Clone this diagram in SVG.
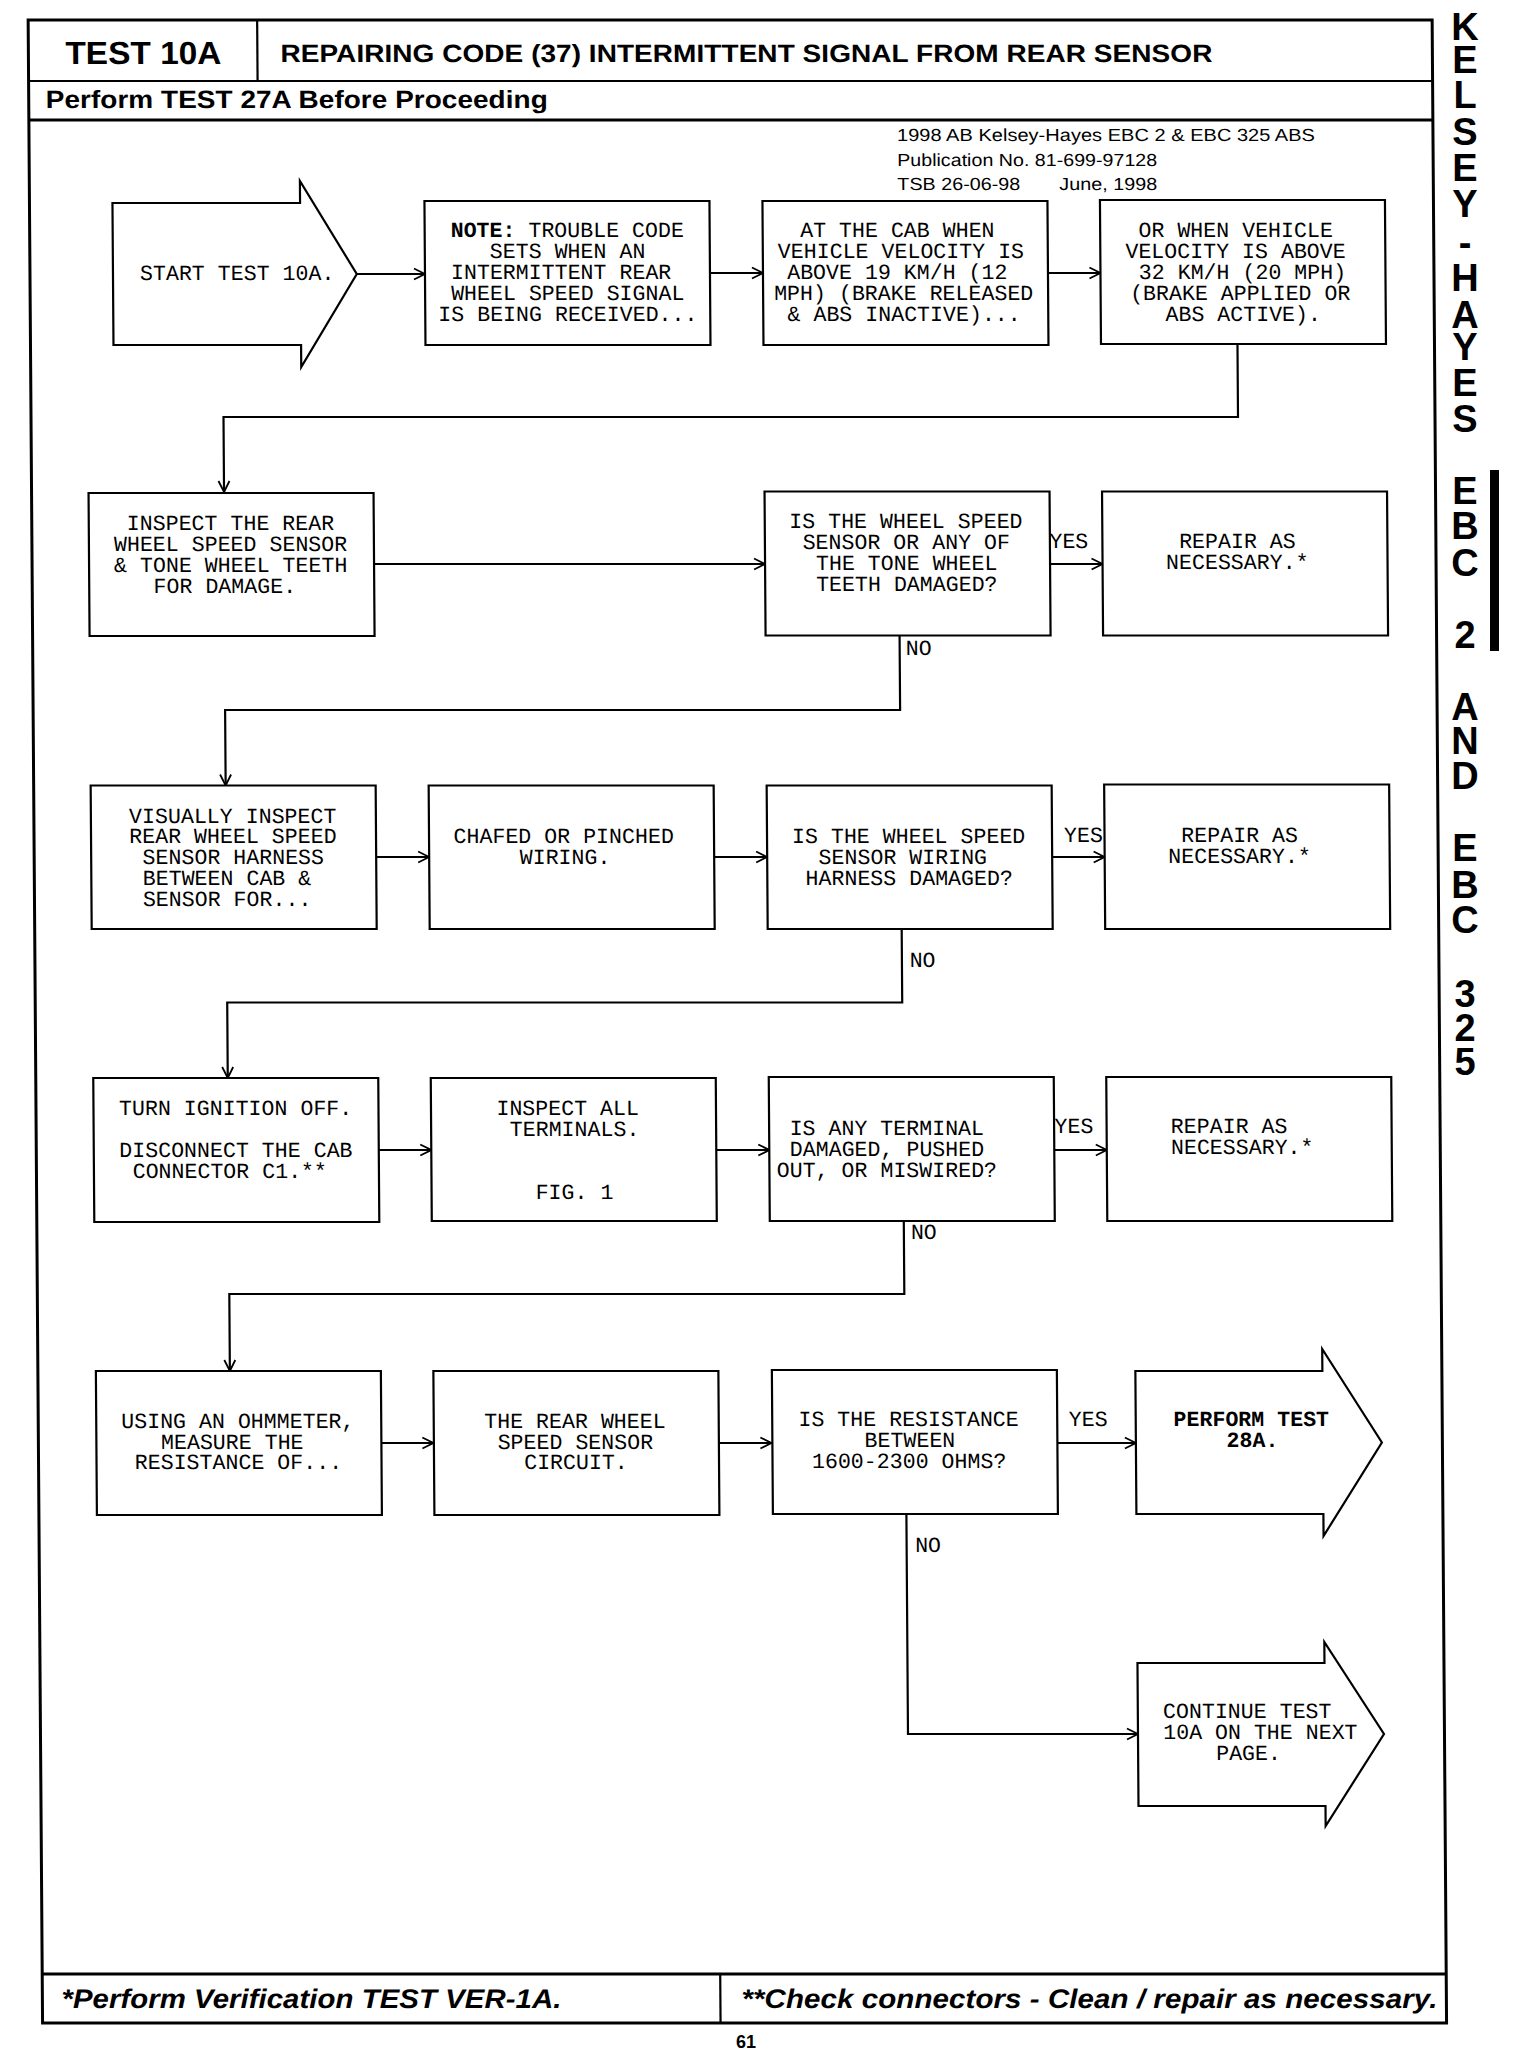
<svg xmlns="http://www.w3.org/2000/svg" width="1520" height="2050" viewBox="0 0 1520 2050">
<style>
.box{fill:#fff;stroke:#000;stroke-width:2.2}
.frm{fill:none;stroke:#000;stroke-width:3}
.c{fill:none;stroke:#000;stroke-width:2.2}
.ca{fill:none;stroke:#000;stroke-width:2.2;marker-end:url(#ah)}
.t{font-family:"Liberation Mono","DejaVu Sans Mono",monospace;font-size:21.6px;fill:#000}
.b{font-weight:bold}
.h{font-family:"Liberation Sans",Arial,sans-serif;font-weight:bold;fill:#000}
.p{font-family:"Liberation Sans",Arial,sans-serif;font-weight:normal;fill:#000}
.fi{font-family:"Liberation Sans",Arial,sans-serif;font-weight:bold;font-style:italic;fill:#000}
.v{font-family:"Liberation Sans",Arial,sans-serif;font-weight:bold;font-size:38px;fill:#000;text-anchor:middle}
</style>
<defs>
<marker id="ah" markerUnits="userSpaceOnUse" markerWidth="14" markerHeight="14" refX="12" refY="7" orient="auto">
<path d="M1,1.5 L12,7 L1,12.5" fill="none" stroke="#000" stroke-width="1.8"/>
</marker>
</defs>
<rect width="1520" height="2050" fill="#fff"/>

<g id="sidebar">
<text class="v" x="1465 1465 1465 1465 1465 1465 1465 1465 1465 1465 1465 1465" y="40 73 108 145 181 217 256 291 328 360 396 432">KELSEY-HAYES</text>
<text class="v" x="1465 1465 1465" y="504 539 576">EBC</text>
<text class="v" x="1465" y="648">2</text>
<text class="v" x="1465 1465 1465" y="720 754 789">AND</text>
<text class="v" x="1465 1465 1465" y="861 898 933">EBC</text>
<text class="v" x="1465 1465 1465" y="1007 1041 1075">325</text>
<rect x="1490" y="470" width="9" height="181" fill="#000"/>
</g>
<text id="pagenum" class="h" x="746" y="2048" font-size="18" text-anchor="middle">61</text>

<g id="page" transform="matrix(1 0 0.0072 1 0 0)">
<g id="frame">
<rect class="frm" x="28" y="20" width="1404" height="2003"/>
<line class="c" x1="28" y1="81" x2="1432" y2="81"/>
<line class="frm" x1="28" y1="120" x2="1432" y2="120"/>
<line class="c" x1="257" y1="20" x2="257" y2="81"/>
<line class="frm" x1="28" y1="1974" x2="1432" y2="1974"/>
<line class="c" x1="706" y1="1974" x2="706" y2="2023"/>
<text class="h" x="65" y="64" font-size="32" textLength="156" lengthAdjust="spacingAndGlyphs">TEST 10A</text>
<text class="h" x="280" y="62" font-size="25" textLength="932" lengthAdjust="spacingAndGlyphs">REPAIRING CODE (37) INTERMITTENT SIGNAL FROM REAR SENSOR</text>
<text class="h" x="45" y="108" font-size="25" textLength="502" lengthAdjust="spacingAndGlyphs">Perform TEST 27A Before Proceeding</text>
<text class="p" x="896" y="141" font-size="17.5" textLength="418" lengthAdjust="spacingAndGlyphs">1998 AB Kelsey-Hayes EBC 2 &amp; EBC 325 ABS</text>
<text class="p" x="896" y="166" font-size="17.5" textLength="260" lengthAdjust="spacingAndGlyphs">Publication No. 81-699-97128</text>
<text class="p" x="896" y="190" font-size="17.5" textLength="123" lengthAdjust="spacingAndGlyphs">TSB 26-06-98</text>
<text class="p" x="1058" y="190" font-size="17.5" textLength="98" lengthAdjust="spacingAndGlyphs">June, 1998</text>
<text class="fi" x="47" y="2008" font-size="27" textLength="500" lengthAdjust="spacingAndGlyphs">*Perform Verification TEST VER-1A.</text>
<text class="fi" x="727" y="2008" font-size="27" textLength="696" lengthAdjust="spacingAndGlyphs">**Check connectors - Clean / repair as necessary.</text>
</g>

<g id="connectors">
<line class="ca" x1="355" y1="274" x2="423" y2="274"/>
<line class="ca" x1="708" y1="273" x2="761" y2="273"/>
<line class="ca" x1="1046" y1="273" x2="1098.5" y2="273"/>
<polyline class="ca" points="1235,345 1235,417 220.5,417 220.5,492"/>
<line class="ca" x1="370" y1="564" x2="761" y2="564"/>
<line class="ca" x1="1046" y1="564" x2="1098.5" y2="564"/>
<polyline class="ca" points="895,636 895,710 220,710 220,785.5"/>
<line class="ca" x1="370" y1="857" x2="423" y2="857"/>
<line class="ca" x1="708" y1="857" x2="761" y2="857"/>
<line class="ca" x1="1046" y1="857" x2="1098.5" y2="857"/>
<polyline class="ca" points="895,929 895,1002.5 220,1002.5 220,1078"/>
<line class="ca" x1="370" y1="1150" x2="423" y2="1150"/>
<line class="ca" x1="708" y1="1150" x2="761" y2="1150"/>
<line class="ca" x1="1046" y1="1150" x2="1098.5" y2="1150"/>
<polyline class="ca" points="895,1222 895,1294 220,1294 220,1371"/>
<line class="ca" x1="370" y1="1443" x2="423" y2="1443"/>
<line class="ca" x1="708" y1="1443" x2="761" y2="1443"/>
<line class="ca" x1="1046" y1="1443" x2="1125.5" y2="1443"/>
<polyline class="ca" points="895.5,1515 895.5,1734 1125.5,1734"/>
<text class="t" x="1045.5" y="548">YES</text>
<text class="t" x="901" y="655">NO</text>
<text class="t" x="1058" y="842">YES</text>
<text class="t" x="902.7" y="967.5">NO</text>
<text class="t" x="1046.4" y="1133.5">YES</text>
<text class="t" x="902" y="1239.5">NO</text>
<text class="t" x="1058.6" y="1426.4">YES</text>
<text class="t" x="904" y="1552">NO</text>
</g>

<g id="start">
<path class="box" d="M111,203 H298.6 V181 L354.8,274 L298.6,367 V345 H111 Z"/>
<text class="t" x="138" y="280">START TEST 10A.</text>
</g>
<g id="note">
<rect class="box" x="423" y="201" width="285" height="144"/>
<text class="t"><tspan x="449" y="237"><tspan class="b">NOTE:</tspan> TROUBLE CODE</tspan><tspan x="488" y="258">SETS WHEN AN</tspan><tspan x="449" y="279">INTERMITTENT REAR</tspan><tspan x="449" y="300">WHEEL SPEED SIGNAL</tspan><tspan x="436" y="321">IS BEING RECEIVED...</tspan></text>
</g>
<g id="cab">
<rect class="box" x="761" y="201" width="285" height="144"/>
<text class="t"><tspan x="798.5" y="237">AT THE CAB WHEN</tspan><tspan x="776" y="258">VEHICLE VELOCITY IS</tspan><tspan x="785.2" y="279">ABOVE 19 KM/H (12</tspan><tspan x="772" y="300">MPH) (BRAKE RELEASED</tspan><tspan x="785.2" y="321">&amp; ABS INACTIVE)...</tspan></text>
</g>
<g id="orwhen">
<rect class="box" x="1098.5" y="200" width="285" height="144"/>
<text class="t"><tspan x="1136.8" y="237">OR WHEN VEHICLE</tspan><tspan x="1123.6" y="258">VELOCITY IS ABOVE</tspan><tspan x="1136.8" y="279">32 KM/H (20 MPH)</tspan><tspan x="1128" y="300">(BRAKE APPLIED OR</tspan><tspan x="1163.2" y="321">ABS ACTIVE).</tspan></text>
</g>

<g id="inspect-rear">
<rect class="box" x="85" y="493" width="285" height="143"/>
<text class="t"><tspan x="123" y="530">INSPECT THE REAR</tspan><tspan x="110" y="551">WHEEL SPEED SENSOR</tspan><tspan x="110" y="572">&amp; TONE WHEEL TEETH</tspan><tspan x="149.3" y="593">FOR DAMAGE.</tspan></text>
</g>
<g id="q-tone">
<rect class="box" x="761" y="491.5" width="285" height="144"/>
<text class="t"><tspan x="785.5" y="528.5">IS THE WHEEL SPEED</tspan><tspan x="798.7" y="549.5">SENSOR OR ANY OF</tspan><tspan x="811.9" y="570.5">THE TONE WHEEL</tspan><tspan x="811.9" y="591.5">TEETH DAMAGED?</tspan></text>
</g>
<g id="repair-1">
<rect class="box" x="1098.5" y="491.5" width="285" height="144"/>
<text class="t"><tspan x="1175.2" y="548">REPAIR AS</tspan><tspan x="1162" y="569">NECESSARY.*</tspan></text>
</g>

<g id="visually">
<rect class="box" x="85" y="785.5" width="285" height="143.5"/>
<text class="t"><tspan x="123.2" y="822.6">VISUALLY INSPECT</tspan><tspan x="123.2" y="843.5">REAR WHEEL SPEED</tspan><tspan x="136.4" y="864.4">SENSOR HARNESS</tspan><tspan x="136.4" y="885.3">BETWEEN CAB &amp;</tspan><tspan x="136.4" y="906.2">SENSOR FOR...</tspan></text>
</g>
<g id="chafed">
<rect class="box" x="423" y="785.5" width="285" height="143.5"/>
<text class="t"><tspan x="447.5" y="843.5">CHAFED OR PINCHED</tspan><tspan x="513.5" y="864.4">WIRING.</tspan></text>
</g>
<g id="q-harness">
<rect class="box" x="761" y="785.5" width="285" height="143.5"/>
<text class="t"><tspan x="786" y="843.5">IS THE WHEEL SPEED</tspan><tspan x="812.4" y="864.4">SENSOR WIRING</tspan><tspan x="799.2" y="885.3">HARNESS DAMAGED?</tspan></text>
</g>
<g id="repair-2">
<rect class="box" x="1098.5" y="784.5" width="285" height="144.5"/>
<text class="t"><tspan x="1175.3" y="842">REPAIR AS</tspan><tspan x="1162.1" y="863">NECESSARY.*</tspan></text>
</g>

<g id="ignition">
<rect class="box" x="85.5" y="1078" width="285" height="144"/>
<text class="t"><tspan x="111" y="1115">TURN IGNITION OFF.</tspan><tspan x="111" y="1157">DISCONNECT THE CAB</tspan><tspan x="124.2" y="1178">CONNECTOR C1.**</tspan></text>
</g>
<g id="terminals">
<rect class="box" x="423" y="1078" width="285" height="143"/>
<text class="t"><tspan x="488.4" y="1115">INSPECT ALL</tspan><tspan x="501.6" y="1136">TERMINALS.</tspan><tspan x="527" y="1199">FIG. 1</tspan></text>
</g>
<g id="q-terminal">
<rect class="box" x="761" y="1077" width="285" height="144"/>
<text class="t"><tspan x="781.5" y="1135">IS ANY TERMINAL</tspan><tspan x="781.5" y="1156">DAMAGED, PUSHED</tspan><tspan x="768.3" y="1177">OUT, OR MISWIRED?</tspan></text>
</g>
<g id="repair-3">
<rect class="box" x="1098.5" y="1077" width="285" height="144"/>
<text class="t"><tspan x="1162.7" y="1133.5">REPAIR AS</tspan><tspan x="1162.7" y="1154.5">NECESSARY.*</tspan></text>
</g>

<g id="ohmmeter">
<rect class="box" x="86" y="1371" width="285" height="144"/>
<text class="t"><tspan x="111" y="1427.7">USING AN OHMMETER,</tspan><tspan x="150.6" y="1448.6">MEASURE THE</tspan><tspan x="124.2" y="1469.5">RESISTANCE OF...</tspan></text>
</g>
<g id="circuit">
<rect class="box" x="423.5" y="1371" width="285" height="144"/>
<text class="t"><tspan x="474" y="1427.7">THE REAR WHEEL</tspan><tspan x="487.2" y="1448.6">SPEED SENSOR</tspan><tspan x="513.6" y="1469.5">CIRCUIT.</tspan></text>
</g>
<g id="q-resistance">
<rect class="box" x="762" y="1370" width="285" height="144"/>
<text class="t"><tspan x="788.2" y="1426.4">IS THE RESISTANCE</tspan><tspan x="854.2" y="1447.3">BETWEEN</tspan><tspan x="801.4" y="1468.2">1600-2300 OHMS?</tspan></text>
</g>
<g id="test28a">
<path class="box" d="M1125.5,1371 H1312.5 V1349 L1371.5,1442.5 L1312.5,1536 V1514 H1125.5 Z"/>
<text class="t b"><tspan x="1163.3" y="1426.4">PERFORM TEST</tspan><tspan x="1216.1" y="1447.3">28A.</tspan></text>
</g>
<g id="continue">
<path class="box" d="M1125.5,1663 H1312.5 V1642 L1371.5,1734 L1312.5,1826 V1806 H1125.5 Z"/>
<text class="t"><tspan x="1150.7" y="1718">CONTINUE TEST</tspan><tspan x="1150.7" y="1739">10A ON THE NEXT</tspan><tspan x="1203.5" y="1760">PAGE.</tspan></text>
</g>
</g>
</svg>
